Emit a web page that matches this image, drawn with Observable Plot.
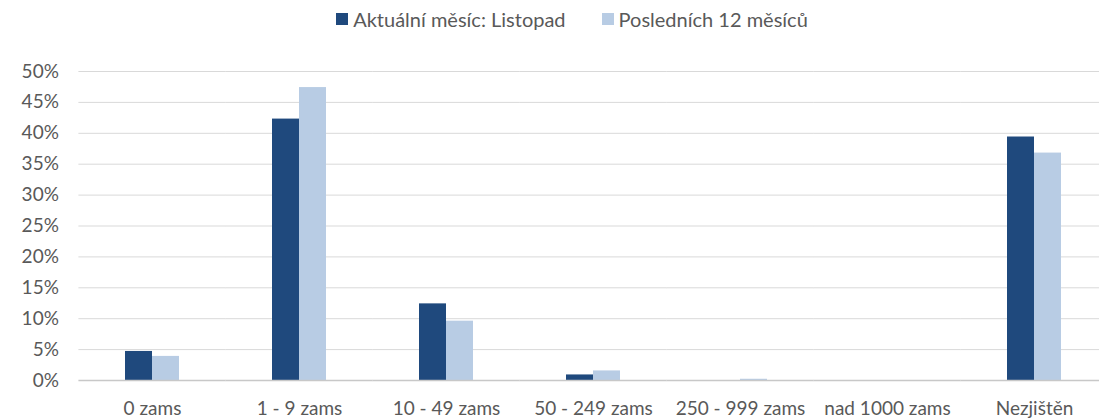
<!DOCTYPE html>
<html>
<head>
<meta charset="utf-8">
<script src="https://cdn.jsdelivr.net/npm/d3@7"></script>
<script src="https://cdn.jsdelivr.net/npm/@observablehq/plot@0.6"></script>
<style>
  html, body { margin: 0; padding: 0; background: #fff; overflow: hidden; }
  #wrap { position: relative; width: 1099px; height: 418px; font-family: Lato, "Open Sans", sans-serif; }
  #legend { position: absolute; top: 7px; left: 0; width: 1099px; display: flex; justify-content: center; font-size: 20px; line-height: 24px; color: #595959; padding-left: 45px; box-sizing: border-box; z-index: 2; }
  .item { display: flex; align-items: center; margin: 0 18px; }
  .sw { width: 12px; height: 12px; margin-right: 5px; display: inline-block; }
</style>
</head>
<body>
<div id="wrap">
  <div id="legend"></div>
  <div id="chart"></div>
</div>
<script>
const categories = ["0 zams", "1 - 9 zams", "10 - 49 zams", "50 - 249 zams", "250 - 999 zams", "nad 1000 zams", "Nezjištěn"];
const seriesNames = ["Aktuální měsíc: Listopad", "Posledních 12 měsíců"];
const currentMonth = [4.7, 42.3, 12.4, 0.9, 0, 0, 39.4];
const last12Months = [3.9, 47.4, 9.6, 1.55, 0.2, 0, 36.8];
const colors = ["#1F497D", "#B8CCE4"];
const yTicks = [0, 5, 10, 15, 20, 25, 30, 35, 40, 45, 50];

const data = [];
categories.forEach((c, i) => {
  data.push({cat: c, series: seriesNames[0], value: currentMonth[i]});
  data.push({cat: c, series: seriesNames[1], value: last12Months[i]});
});

const legend = document.getElementById("legend");
seriesNames.forEach((s, i) => {
  const it = document.createElement("div");
  it.className = "item";
  it.innerHTML = `<span class="sw" style="background:${colors[i]}"></span><span>${s}</span>`;
  legend.appendChild(it);
});

const gapInset = -46.6;
const chart = Plot.plot({
  width: 1099,
  height: 418,
  marginTop: 71,
  marginBottom: 38,
  marginLeft: 77,
  marginRight: -9,
  style: {fontFamily: "Lato, 'Open Sans', sans-serif", fontSize: "19px", color: "#595959", background: "transparent", overflow: "hidden"},
  fx: {domain: categories, paddingInner: 0.633, paddingOuter: 0.3165, label: null},
  x: {domain: seriesNames, padding: 0, axis: null},
  y: {domain: [0, 50], ticks: yTicks, label: null},
  color: {domain: seriesNames, range: colors},
  marks: [
    Plot.gridY(yTicks.filter(d => d > 0), {stroke: "#d9d9d9", strokeOpacity: 1, strokeWidth: 1, insetLeft: gapInset, insetRight: gapInset}),
    Plot.barY(data, {fx: "cat", x: "series", y: "value", fill: "series"}),
    Plot.ruleY([0], {stroke: "#c8c8c8", strokeWidth: 1.3, insetLeft: gapInset, insetRight: gapInset}),
    Plot.axisY({ticks: yTicks, tickSize: 0, tickPadding: 20 - gapInset, tickFormat: d => d + "%", fill: "#595959", anchor: "left", label: null}),
    Plot.axisFx({anchor: "bottom", tickSize: 0, tickPadding: 21, label: null, fill: "#595959"})
  ]
});
document.getElementById("chart").appendChild(chart);
</script>
</body>
</html>
